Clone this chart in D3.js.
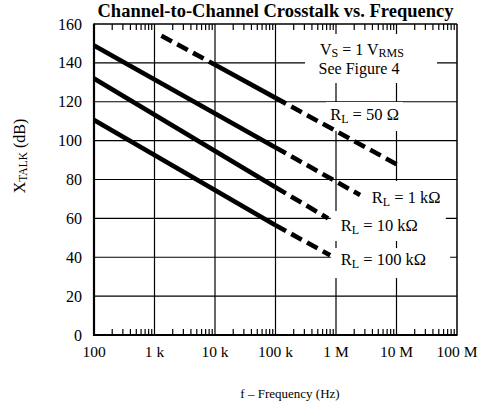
<!DOCTYPE html>
<html>
<head>
<meta charset="utf-8">
<script src="https://cdn.jsdelivr.net/npm/d3@7"></script>
<style>
  body { margin: 0; background: #fff; }
  svg text { font-family: "Liberation Serif", "Times New Roman", serif; fill: #000; }
</style>
</head>
<body>
<div id="chart"></div>
<script>
// values: frequency (Hz) and crosstalk (dB) at the segment breaks
var loadNames = ["50 Ω", "1 kΩ", "10 kΩ", "100 kΩ"];

var freq50 = [1300, 10000, 100000, 12000000];
var xtalk50 = [154, 139, 122, 86.5];
var style50 = ["dash", "solid", "dash"];

var freq1k = [100, 100000, 2500000];
var xtalk1k = [149, 96.5, 72];
var style1k = ["solid", "dash"];

var freq10k = [100, 100000, 740000];
var xtalk10k = [132, 76, 60];
var style10k = ["solid", "dash"];

var freq100k = [100, 100000, 800000];
var xtalk100k = [110.6, 56.5, 41];
var style100k = ["solid", "dash"];

var yTicks = [0, 20, 40, 60, 80, 100, 120, 140, 160];
var xTicks = [1e2, 1e3, 1e4, 1e5, 1e6, 1e7, 1e8];
var xTickLabels = ["100", "1 k", "10 k", "100 k", "1 M", "10 M", "100 M"];

// where each R_L label sits (freq, dB of baseline-left)
var labelFreq = [8e5, 3.9e6, 1.2e6, 1.2e6];
var labelDb = [110.6, 67.9, 53.5, 36];

var visualize = function() {
  var width = 494, height = 405;
  var left = 94, right = 457, top = 24, bottom = 335;

  var svg = d3.select("#chart")
    .append("svg")
    .attr("width", width)
    .attr("height", height);

  var x = d3.scaleLog().domain([1e2, 1e8]).range([left, right]);
  var y = d3.scaleLinear().domain([0, 160]).range([bottom, top]);

  // title
  svg.append("text")
    .attr("x", (left + right) / 2)
    .attr("y", 17)
    .attr("text-anchor", "middle")
    .style("font-weight", "bold")
    .style("font-size", "18.5px")
    .text("Channel-to-Channel Crosstalk vs. Frequency");

  // grid
  var grid = svg.append("g").attr("stroke", "#000").attr("stroke-width", 1.2);
  grid.selectAll("hgrid")
    .data(yTicks.slice(1, -1))
    .enter().append("line")
      .attr("x1", left).attr("x2", right)
      .attr("y1", function(d) { return y(d); })
      .attr("y2", function(d) { return y(d); });
  grid.selectAll("vgrid")
    .data(xTicks.slice(1, -1))
    .enter().append("line")
      .attr("y1", top).attr("y2", bottom)
      .attr("x1", function(d) { return x(d); })
      .attr("x2", function(d) { return x(d); });

  // minor ticks top and bottom
  var minors = [];
  for (var dec = 1e2; dec < 1e8; dec *= 10) {
    for (var k = 2; k <= 9; k++) minors.push(dec * k);
  }
  grid.selectAll("topTick")
    .data(minors)
    .enter().append("line")
      .attr("x1", function(d) { return x(d); })
      .attr("x2", function(d) { return x(d); })
      .attr("y1", top).attr("y2", top + 6);
  grid.selectAll("botTick")
    .data(minors)
    .enter().append("line")
      .attr("x1", function(d) { return x(d); })
      .attr("x2", function(d) { return x(d); })
      .attr("y1", bottom).attr("y2", bottom - 6);

  // frame
  var frame = svg.append("g").attr("stroke", "#000");
  frame.append("line").attr("x1", left).attr("x2", right).attr("y1", top).attr("y2", top).attr("stroke-width", 1.5);
  frame.append("line").attr("x1", right).attr("x2", right).attr("y1", top).attr("y2", bottom).attr("stroke-width", 1.5);
  frame.append("line").attr("x1", left).attr("x2", left).attr("y1", top - 0.5).attr("y2", bottom + 1).attr("stroke-width", 2.2);
  frame.append("line").attr("x1", left - 1).attr("x2", right + 0.5).attr("y1", bottom).attr("y2", bottom).attr("stroke-width", 2.2);

  // tick labels
  svg.selectAll("ylab")
    .data(yTicks)
    .enter().append("text")
      .attr("x", left - 12)
      .attr("y", function(d) { return y(d); })
      .attr("dy", "0.35em")
      .attr("text-anchor", "end")
      .style("font-size", "16px")
      .text(function(d) { return d; });
  svg.selectAll("xlab")
    .data(xTicks)
    .enter().append("text")
      .attr("x", function(d) { return x(d); })
      .attr("y", bottom + 22)
      .attr("text-anchor", "middle")
      .style("font-size", "15.5px")
      .text(function(d, i) { return xTickLabels[i]; });

  // axis titles
  svg.append("text")
    .attr("x", 290)
    .attr("y", 398)
    .attr("text-anchor", "middle")
    .style("font-size", "13px")
    .text("f – Frequency (Hz)");

  var yt = svg.append("text")
    .attr("transform", "translate(25,156) rotate(-90)")
    .attr("text-anchor", "middle")
    .style("font-size", "16px");
  yt.append("tspan").text("X");
  yt.append("tspan").attr("dy", 2).style("font-size", "11.5px").text("TALK");
  yt.append("tspan").attr("dy", -2).text(" (dB)");

  // conditions box
  svg.append("rect")
    .attr("x", 305).attr("y", 34)
    .attr("width", 132).attr("height", 49)
    .attr("fill", "#fff");
  var vs = svg.append("text")
    .attr("x", 362).attr("y", 55)
    .attr("text-anchor", "middle")
    .style("font-size", "16px");
  vs.append("tspan").text("V");
  vs.append("tspan").attr("dy", 2).style("font-size", "12px").text("S");
  vs.append("tspan").attr("dy", -2).text(" = 1 V");
  vs.append("tspan").attr("dy", 2).style("font-size", "12px").text("RMS");
  svg.append("text")
    .attr("x", 359).attr("y", 74)
    .attr("text-anchor", "middle")
    .style("font-size", "16px")
    .text("See Figure 4");

  // load labels with white boxes
  var pads = [[4, 4, 6, 5], [6, 6, 10, 5], [10, 28, 8, 4], [10, 24, 5, 7]];
  loadNames.forEach(function(name, i) {
    var g = svg.append("g");
    var box = g.append("rect").attr("fill", "#fff");
    var t = g.append("text")
      .attr("x", x(labelFreq[i]))
      .attr("y", y(labelDb[i]))
      .style("font-size", "16.5px");
    t.append("tspan").text("R");
    t.append("tspan").attr("dy", 3).style("font-size", "12px").text("L");
    t.append("tspan").attr("dy", -3).text(" = " + name);
    var b = t.node().getBBox();
    var p = pads[i];
    box.attr("x", b.x - p[0]).attr("y", b.y + 3 - p[2])
      .attr("width", b.width + p[0] + p[1])
      .attr("height", b.height - 3 + p[2] + p[3]);
  });

  // curves
  var dataReady = [
    { f: freq50, v: xtalk50, s: style50 },
    { f: freq1k, v: xtalk1k, s: style1k },
    { f: freq10k, v: xtalk10k, s: style10k },
    { f: freq100k, v: xtalk100k, s: style100k }
  ];
  var line = d3.line()
    .x(function(d) { return x(d[0]); })
    .y(function(d) { return y(d[1]); });

  dataReady.forEach(function(ser) {
    ser.s.forEach(function(st, j) {
      svg.append("path")
        .attr("d", line([[ser.f[j], ser.v[j]], [ser.f[j + 1], ser.v[j + 1]]]))
        .attr("stroke", "#000")
        .attr("stroke-width", 4.6)
        .attr("fill", "none")
        .attr("stroke-dasharray", st == "dash" ? "12,6" : null);
    });
  });
};

visualize();
</script>
</body>
</html>
